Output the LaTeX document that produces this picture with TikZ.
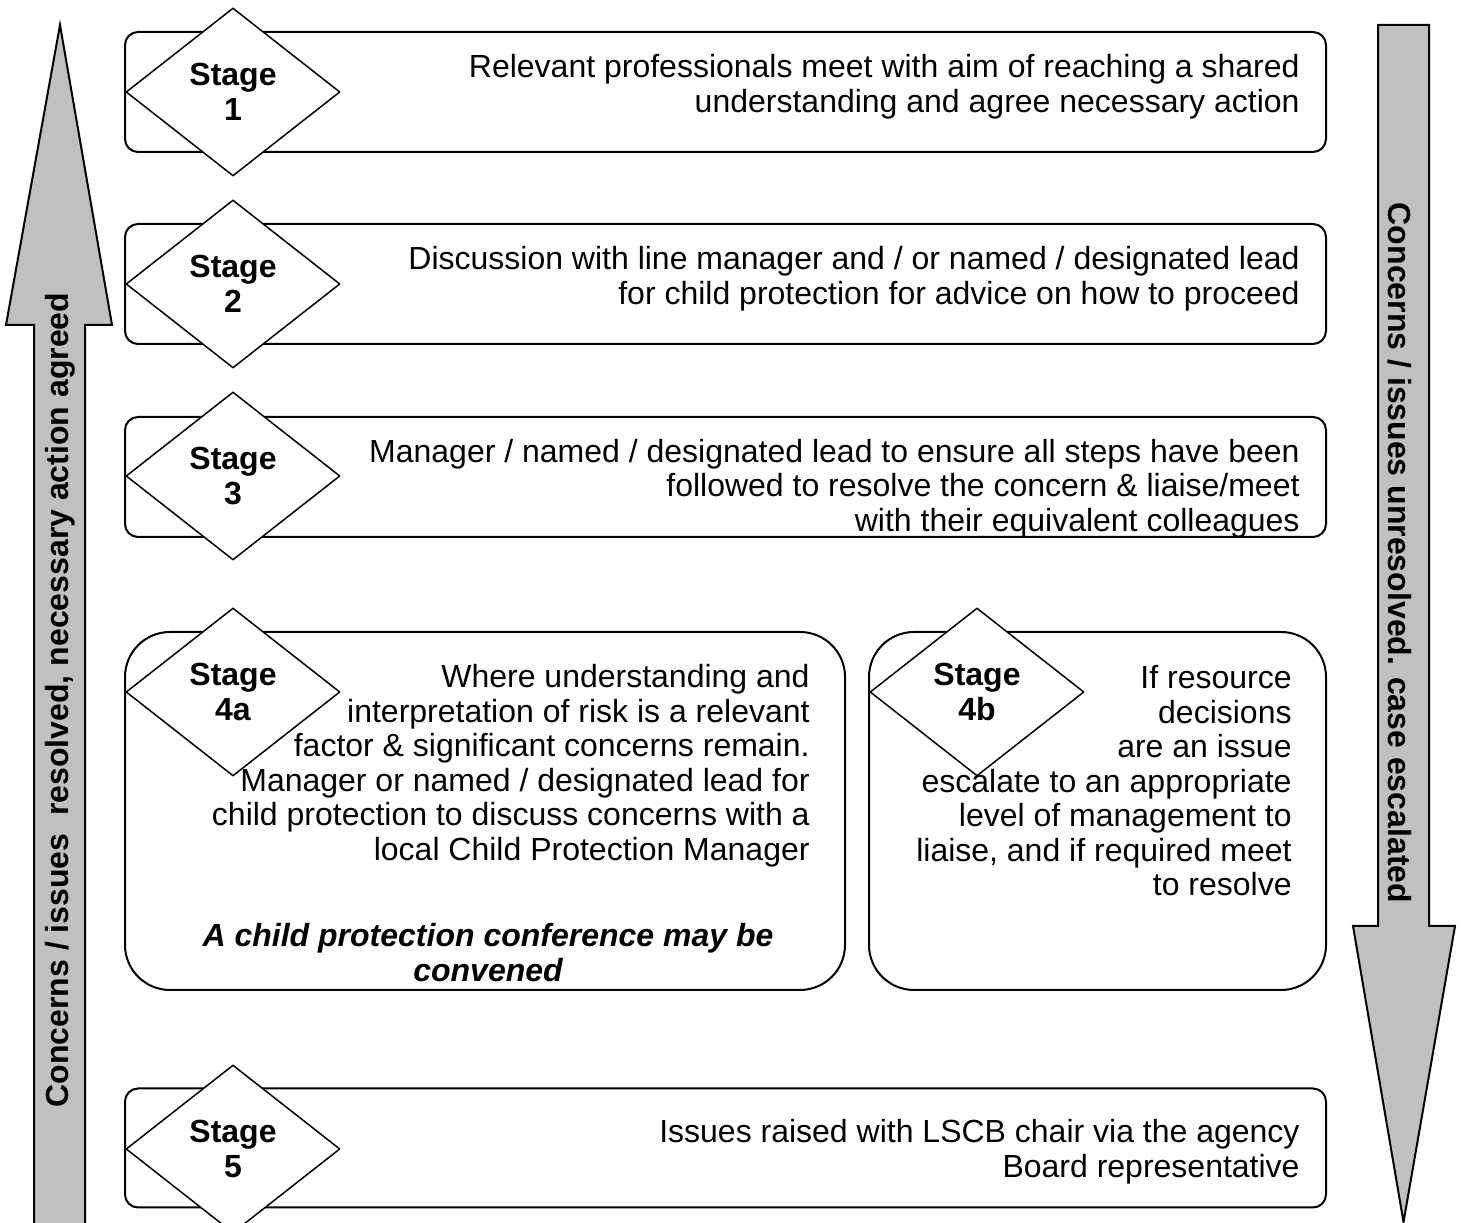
\documentclass[tikz,border=0pt]{standalone}
\usepackage{fontspec}
\setmainfont{Liberation Sans}
\usepackage{xcolor}
\usepackage{tikz}
\usetikzlibrary{%
shapes.geometric,
backgrounds}

\definecolor{arrowgray}{RGB}{192,192,192}
\newcommand{\stagefont}{\fontsize{16bp}{17.25bp}\selectfont}

\tikzset{
  stagebox/.style={draw, line width=1bp, rounded corners=6.5bp, inner sep=0pt},
  bigbox/.style={stagebox, rounded corners=22.5bp},
  stagediamond/.style={diamond, draw, fill=white, line width=0.75bp,
    minimum width=107bp, minimum height=84bp, inner sep=0pt,
    align=center, font=\stagefont\bfseries},
  stagetext/.style={align=right, inner sep=0pt, anchor=east, font=\stagefont},
  notetext/.style={align=center, inner sep=0pt, font=\stagefont\bfseries\itshape},
  blockarrow/.style={draw, line width=1bp, fill=arrowgray, line join=miter},
  arrowlabel/.style={inner sep=0pt, font=\stagefont\bfseries}
}

\begin{document}
\begin{tikzpicture}[line join=bevel]
\useasboundingbox (0bp,0bp) rectangle (731bp,611.5bp);
%%
  % Arrow: resolved (upwards)
  \draw [blockarrow] (17bp,-3bp) -- (17bp,449bp) -- (3bp,449bp) -- (30bp,599bp) -- (56bp,449bp) -- (42.5bp,449bp) -- (42.5bp,-3bp) -- cycle;
  \node [arrowlabel, rotate=90] (resolved) at (30bp,261.5bp) {Concerns / issues \ resolved, necessary action agreed};
  % Arrow: escalated (downwards)
  \draw [blockarrow] (689bp,599bp) -- (714.5bp,599bp) -- (714.5bp,148.5bp) -- (727.5bp,148.5bp) -- (701.75bp,0.5bp) -- (676.5bp,148.5bp) -- (689bp,148.5bp) -- cycle;
  \node [arrowlabel, rotate=-90] (escalated) at (700bp,335bp) {Concerns / issues unresolved. case escalated};
%%
  % Node: stage1
  \node [stagebox, minimum width=600.5bp, minimum height=60bp] (box1) at (362.75bp,565.5bp) {};
  \node [stagediamond] (dia1) at (116.5bp,565.5bp) {Stage\\1};
  \node [stagetext] (txt1) at (650bp,568.25bp) {Relevant professionals meet with aim of reaching a shared\\understanding and agree necessary action};
  % Node: stage2
  \node [stagebox, minimum width=600.5bp, minimum height=60bp] (box2) at (362.75bp,469.5bp) {};
  \node [stagediamond] (dia2) at (116.5bp,469.5bp) {Stage\\2};
  \node [stagetext] (txt2) at (650bp,472.25bp) {Discussion with line manager and / or named / designated lead\\for child protection for advice on how to proceed};
  % Node: stage3
  \node [stagebox, minimum width=600.5bp, minimum height=60bp] (box3) at (362.75bp,373bp) {};
  \node [stagediamond] (dia3) at (116.5bp,373.5bp) {Stage\\3};
  \node [stagetext] (txt3) at (650bp,367.2bp) {Manager / named / designated lead to ensure all steps have been\\followed to resolve the concern \& liaise/meet\\with their equivalent colleagues};
  % Node: stage4a
  \node [bigbox, minimum width=360bp, minimum height=179bp] (box4a) at (242.5bp,206bp) {};
  \node [stagediamond] (dia4a) at (116.5bp,265.5bp) {Stage\\4a};
  \node [stagetext] (txt4a) at (405bp,228.75bp) {Where understanding and\\interpretation of risk is a relevant\\factor \& significant concerns remain.\\Manager or named / designated lead for\\child protection to discuss concerns with a\\local Child Protection Manager};
  \node [notetext] (note4a) at (244bp,135.25bp) {A child protection conference may be\\convened};
  % Node: stage4b
  \node [bigbox, minimum width=228.5bp, minimum height=179bp] (box4b) at (548.75bp,206bp) {};
  \node [stagediamond] (dia4b) at (488.5bp,265.5bp) {Stage\\4b};
  \node [stagetext] (txt4b) at (646bp,221bp) {If resource\\decisions\\are an issue\\escalate to an appropriate\\level of management to\\liaise, and if required meet\\to resolve};
  % Node: stage5
  \node [stagebox, minimum width=600.5bp, minimum height=59.5bp] (box5) at (362.75bp,37.5bp) {};
  \node [stagediamond] (dia5) at (116.5bp,37bp) {Stage\\5};
  \node [stagetext] (txt5) at (650bp,35.75bp) {Issues raised with LSCB chair via the agency\\Board representative};
%
\end{tikzpicture}
\end{document}
